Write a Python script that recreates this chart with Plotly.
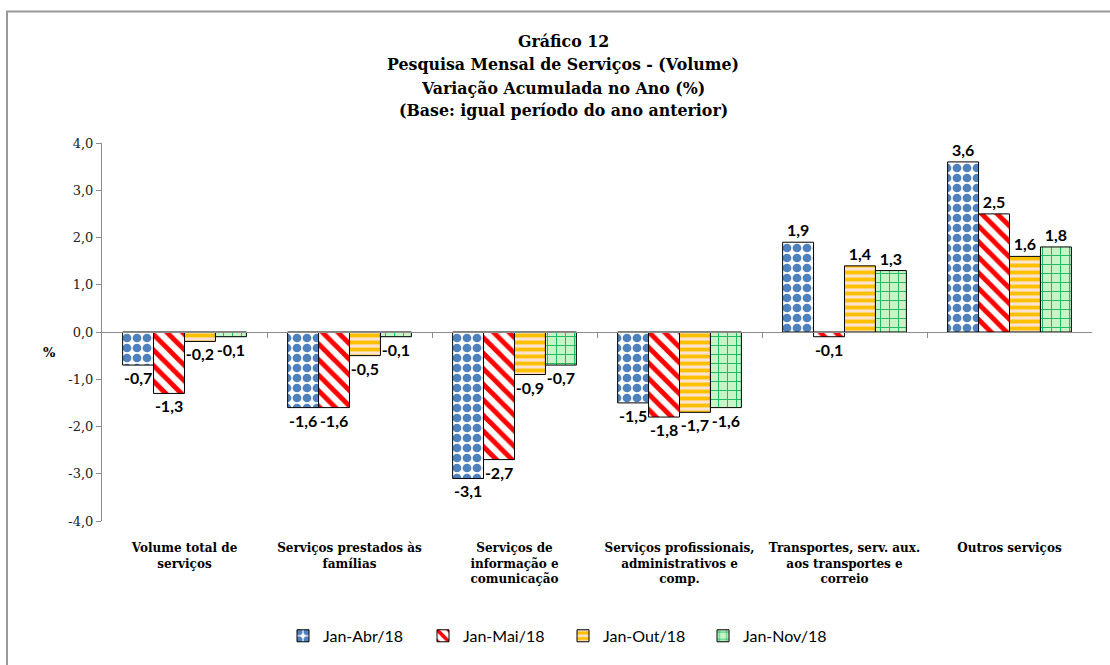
import plotly.graph_objects as go

categories = [
    "Volume total de<br>serviços",
    "Serviços prestados às<br>famílias",
    "Serviços de<br>informação e<br>comunicação",
    "Serviços profissionais,<br>administrativos e<br>comp.",
    "Transportes, serv. aux.<br>aos transportes e<br>correio",
    "Outros serviços",
]
series_names = ["Jan-Abr/18", "Jan-Mai/18", "Jan-Out/18", "Jan-Nov/18"]
jan_abr = [-0.7, -1.6, -3.1, -1.5, 1.9, 3.6]
jan_mai = [-1.3, -1.6, -2.7, -1.8, -0.1, 2.5]
jan_out = [-0.2, -0.5, -0.9, -1.7, 1.4, 1.6]
jan_nov = [-0.1, -0.1, -0.7, -1.6, 1.3, 1.8]
y_ticks = [-4, -3, -2, -1, 0, 1, 2, 3, 4]
y_tick_text = [f"{v:.1f}".replace(".", ",") for v in y_ticks]
title_lines = [
    "Gráfico 12",
    "Pesquisa Mensal de Serviços - (Volume)",
    "Variação Acumulada no Ano (%)",
    "(Base: igual período do ano anterior)",
]

values = [jan_abr, jan_mai, jan_out, jan_nov]
patterns = [
    dict(shape=".", fgcolor="#4F81BD", bgcolor="white", size=10, solidity=0.6, fgopacity=1, fillmode="overlay"),
    dict(shape="\\", fgcolor="#FF0000", bgcolor="white", size=11, solidity=0.45, fgopacity=1, fillmode="overlay"),
    dict(shape="-", fgcolor="#FFC000", bgcolor="#FDE3D3", size=7, solidity=0.55, fgopacity=1, fillmode="overlay"),
    dict(shape="+", fgcolor="#00B050", bgcolor="#C8F5C8", size=9, solidity=0.18, fgopacity=1, fillmode="overlay"),
]

SERIF = "DejaVu Serif"
SANS = "Lato"

fig = go.Figure()
for name, vals, pat in zip(series_names, values, patterns):
    fig.add_trace(go.Bar(
        x=categories, y=vals, name=name,
        marker=dict(color="white", pattern=pat, line=dict(color="black", width=1)),
        texttemplate="%{y:.1f}", textposition="outside", cliponaxis=False,
        textfont=dict(family=SANS, size=16, color="black", weight="bold"),
    ))

# helper trace for the zero-line axis with category separators
fig.add_trace(go.Scatter(x=[0], y=[0], xaxis="x2", mode="markers",
                         marker=dict(opacity=0), showlegend=False, hoverinfo="skip"))

L, R, T, B = 102, 18, 143, 137
W, H = 1110, 665
pw, ph = W - L - R, H - T - B

def px(x):
    return (x - L) / pw

def py(y):
    return (H - B - y) / ph

title_y = [40, 63, 87, 110]
annotations = [dict(
    text=f"<b>{t}</b>", x=px(563), y=py(yy), xref="paper", yref="paper",
    xanchor="center", yanchor="middle", showarrow=False,
    font=dict(family=SERIF, size=15.8, color="black"),
) for t, yy in zip(title_lines, title_y)]
annotations.append(dict(
    text="<b>%</b>", x=px(41), y=py(356), xref="paper", yref="paper",
    showarrow=False, font=dict(family=SERIF, size=13, color="black"),
))

fig.update_layout(
    width=W, height=H,
    margin=dict(l=L, r=R, t=T, b=B),
    paper_bgcolor="white", plot_bgcolor="white",
    barmode="group", bargap=0.25, bargroupgap=0,
    xaxis=dict(
        showline=False, ticks="", showgrid=False, zeroline=False, tickangle=0,
        tickfont=dict(family=SERIF, size=12, color="black", weight="bold"),
        ticklabelstandoff=18,
    ),
    xaxis2=dict(
        overlaying="x", anchor="free", position=0.5,
        range=[-0.5, 5.5], showline=True, linecolor="#8C8C8C", linewidth=1,
        ticks="outside", ticklen=5, tickcolor="#8C8C8C",
        tickvals=[0.5, 1.5, 2.5, 3.5, 4.5], showticklabels=False,
        showgrid=False, zeroline=False,
    ),
    yaxis=dict(
        range=[-4, 4], tickvals=y_ticks, ticktext=y_tick_text,
        showline=True, linecolor="#8C8C8C", linewidth=1,
        ticks="outside", ticklen=5, tickcolor="#8C8C8C",
        showgrid=False, zeroline=False,
        tickfont=dict(family=SERIF, size=13, color="#222"),
    ),
    legend=dict(
        orientation="h", x=px(563), xanchor="center", y=py(645), yanchor="middle",
        font=dict(family=SANS, size=16, color="black"),
        entrywidth=95, entrywidthmode="pixels", itemwidth=30,
    ),
    annotations=annotations,
    shapes=[dict(
        type="rect", xref="paper", yref="paper",
        x0=px(7), x1=px(1130), y0=py(700), y1=py(9),
        line=dict(color="#999999", width=2), fillcolor="rgba(0,0,0,0)",
    )],
)
fig.update_layout(separators=",.")

fig.write_html("out.html", config={"displayModeBar": False},
               post_script="document.body.style.margin='0';document.body.style.overflow='hidden';")
